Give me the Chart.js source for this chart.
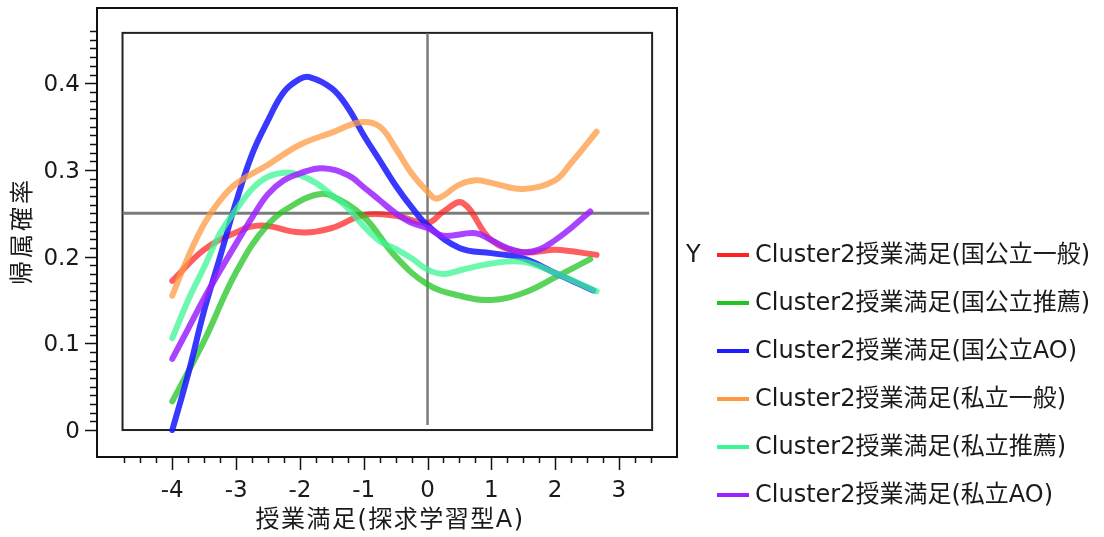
<!DOCTYPE html>
<html>
<head>
<meta charset="utf-8">
<script src="https://cdn.jsdelivr.net/npm/chart.js@4.4.1/dist/chart.umd.min.js"></script>
<style>
html,body{margin:0;padding:0;background:#fff;}
#wrap{width:1104px;height:537px;position:relative;}
</style>
</head>
<body>
<div id="wrap"><canvas id="c"></canvas></div>
<script>
const seriesLabels = [
  'Cluster2授業満足(国公立一般)',
  'Cluster2授業満足(国公立推薦)',
  'Cluster2授業満足(国公立AO)',
  'Cluster2授業満足(私立一般)',
  'Cluster2授業満足(私立推薦)',
  'Cluster2授業満足(私立AO)'
];
const seriesColors = ['#ff2020', '#22c422', '#1c1cff', '#ff9a40', '#3cf596', '#9a22ff'];
const seriesAlpha = [0.72, 0.75, 0.88, 0.75, 0.75, 0.85];

const xsRed = [-4, -3.5, -3, -2.6, -2, -1.5, -1, -0.5, 0, 0.25, 0.55, 1, 1.5, 2, 2.65];
const ysRed = [0.172, 0.208, 0.228, 0.236, 0.228, 0.233, 0.248, 0.247, 0.239, 0.252, 0.262, 0.219, 0.205, 0.208, 0.202];

const xsGreen = [-4, -3.5, -3, -2.5, -2, -1.7, -1.5, -1, -0.5, 0, 0.5, 1, 1.5, 2, 2.55];
const ysGreen = [0.033, 0.103, 0.182, 0.237, 0.264, 0.272, 0.27, 0.246, 0.2, 0.168, 0.155, 0.15, 0.158, 0.176, 0.197];

const xsBlue = [-4, -3.75, -3.5, -3.25, -3, -2.75, -2.5, -2.25, -2, -1.85, -1.5, -1.25, -1, -0.75, -0.5, -0.25, 0, 0.5, 1, 1.5, 2, 2.6];
const ysBlue = [0, 0.065, 0.138, 0.2, 0.263, 0.318, 0.357, 0.39, 0.405, 0.407, 0.394, 0.372, 0.34, 0.311, 0.282, 0.257, 0.236, 0.21, 0.204, 0.198, 0.181, 0.161];

const xsOrange = [-4, -3.75, -3.5, -3.25, -3, -2.5, -2, -1.5, -1.05, -0.75, -0.5, -0.25, 0, 0.15, 0.5, 0.75, 1, 1.5, 2, 2.25, 2.65];
const ysOrange = [0.155, 0.2, 0.238, 0.265, 0.284, 0.306, 0.329, 0.343, 0.355, 0.35, 0.325, 0.296, 0.275, 0.267, 0.283, 0.288, 0.285, 0.278, 0.288, 0.308, 0.344];

const xsSpring = [-4, -3.75, -3.5, -3.25, -3, -2.75, -2.5, -2.2, -2, -1.75, -1.5, -1.25, -1, -0.75, -0.5, -0.25, 0, 0.25, 0.5, 1, 1.5, 2, 2.65];
const ysSpring = [0.106, 0.15, 0.188, 0.227, 0.254, 0.278, 0.292, 0.297, 0.294, 0.285, 0.271, 0.256, 0.235, 0.218, 0.209, 0.198, 0.185, 0.18, 0.184, 0.192, 0.194, 0.181, 0.16];

const xsPurple = [-4, -3.75, -3.5, -3.25, -3, -2.75, -2.5, -2.25, -2, -1.65, -1.25, -1, -0.75, -0.5, -0.25, 0, 0.25, 0.75, 1, 1.25, 1.5, 1.75, 2, 2.25, 2.55];
const ysPurple = [0.082, 0.117, 0.152, 0.184, 0.215, 0.245, 0.272, 0.288, 0.296, 0.302, 0.294, 0.28, 0.265, 0.25, 0.239, 0.233, 0.224, 0.227, 0.219, 0.21, 0.205, 0.208, 0.219, 0.233, 0.252];

const xTickLabels = [-4, -3, -2, -1, 0, 1, 2, 3];
const yTickLabels = [0, 0.1, 0.2, 0.3, 0.4];
const refY = 0.25;
const refX = 0;
const xTitle = '授業満足(探求学習型A)';
const yTitle = '帰属確率';
const legendTitle = 'Y';

const allXs = [xsRed, xsGreen, xsBlue, xsOrange, xsSpring, xsPurple];
const allYs = [ysRed, ysGreen, ysBlue, ysOrange, ysSpring, ysPurple];

function hexA(h, a) {
  const r = parseInt(h.slice(1,3),16), g = parseInt(h.slice(3,5),16), b = parseInt(h.slice(5,7),16);
  return `rgba(${r},${g},${b},${a})`;
}

const datasets = seriesLabels.map((lab, i) => ({
  label: lab,
  data: allXs[i].map((x, j) => ({x: x, y: allYs[i][j]})),
  borderColor: hexA(seriesColors[i], seriesAlpha[i]),
  backgroundColor: seriesColors[i],
  borderWidth: 6,
  pointRadius: 0,
  tension: 0.4,
  borderCapStyle: 'round',
  borderJoinStyle: 'round',
  fill: false,
  order: 6 - i
}));

const FONT = '"DejaVu Sans", "Noto Sans CJK JP", sans-serif';

const frame = {
  id: 'frame',
  beforeDatasetsDraw(chart) {
    const {ctx, chartArea: a, scales: {x, y}} = chart;
    ctx.save();
    ctx.strokeStyle = '#111';
    ctx.lineWidth = 2;
    ctx.strokeRect(a.left, a.top, a.right - a.left, a.bottom - a.top);
    const il = x.getPixelForValue(-4.78), ir = x.getPixelForValue(3.52);
    const it = y.getPixelForValue(0.458), ib = y.getPixelForValue(0);
    ctx.strokeStyle = '#222';
    ctx.lineWidth = 2;
    ctx.strokeRect(il, it, ir - il, ib - it);
    ctx.strokeStyle = 'rgba(110,110,110,0.9)';
    ctx.lineWidth = 3;
    ctx.beginPath();
    ctx.moveTo(il, y.getPixelForValue(refY));
    ctx.lineTo(ir - 3, y.getPixelForValue(refY));
    ctx.stroke();
    ctx.lineWidth = 2.5;
    ctx.beginPath();
    ctx.moveTo(x.getPixelForValue(refX), it);
    ctx.lineTo(x.getPixelForValue(refX), ib - 5);
    ctx.stroke();
    ctx.restore();
  },
  afterDraw(chart) {
    const {ctx, chartArea: a, scales: {x, y}} = chart;
    ctx.save();
    ctx.strokeStyle = '#111';
    ctx.lineWidth = 1.5;
    for (let k = 0; k <= 46; k++) {
      const v = k / 100;
      const py = Math.round(y.getPixelForValue(v)) + 0.5;
      const len = (k % 10 === 0) ? 12 : 7;
      ctx.beginPath();
      ctx.moveTo(a.left - len, py);
      ctx.lineTo(a.left, py);
      ctx.stroke();
    }
    for (let k = -19; k <= 14; k++) {
      const v = k / 4;
      const px = Math.round(x.getPixelForValue(v)) + 0.5;
      const len = (k % 4 === 0) ? 13 : 6;
      ctx.beginPath();
      ctx.moveTo(px, a.bottom);
      ctx.lineTo(px, a.bottom + len);
      ctx.stroke();
    }
    ctx.fillStyle = '#1a1a1a';
    ctx.font = '23px ' + FONT;
    ctx.textAlign = 'right';
    ctx.textBaseline = 'middle';
    yTickLabels.forEach(v => {
      ctx.fillText(String(v), a.left - 17, y.getPixelForValue(v) + 2);
    });
    ctx.textAlign = 'center';
    xTickLabels.forEach(v => {
      ctx.fillText(String(v), x.getPixelForValue(v), 491);
    });
    ctx.font = '24px ' + FONT;
    ctx.letterSpacing = '1.5px';
    ctx.fillText(xTitle, 390, 521);
    ctx.save();
    ctx.letterSpacing = '3px';
    ctx.translate(24, 231);
    ctx.rotate(-Math.PI / 2);
    ctx.fillText(yTitle, 0, 0);
    ctx.restore();
    ctx.letterSpacing = '0px';
    ctx.textAlign = 'left';
    ctx.font = '24px ' + FONT;
    ctx.fillText(legendTitle, 686, 256);
    seriesLabels.forEach((lab, i) => {
      const cy = 255 + i * 48;
      ctx.strokeStyle = seriesColors[i];
      ctx.lineWidth = 4;
      ctx.beginPath();
      ctx.moveTo(717, cy);
      ctx.lineTo(749, cy);
      ctx.stroke();
      ctx.fillStyle = '#1a1a1a';
      ctx.fillText(lab, 755, cy + 1);
    });
    ctx.restore();
  }
};

new Chart(document.getElementById('c'), {
  type: 'line',
  data: {datasets},
  options: {
    responsive: true,
    maintainAspectRatio: false,
    animation: false,
    layout: {padding: {left: 97, top: 8, right: 427, bottom: 80}},
    plugins: {legend: {display: false}, tooltip: {enabled: false}},
    scales: {
      x: {type: 'linear', min: -5.18, max: 3.91, display: false},
      y: {type: 'linear', min: -0.0311, max: 0.4867, display: false}
    }
  },
  plugins: [frame]
});
</script>
</body>
</html>
